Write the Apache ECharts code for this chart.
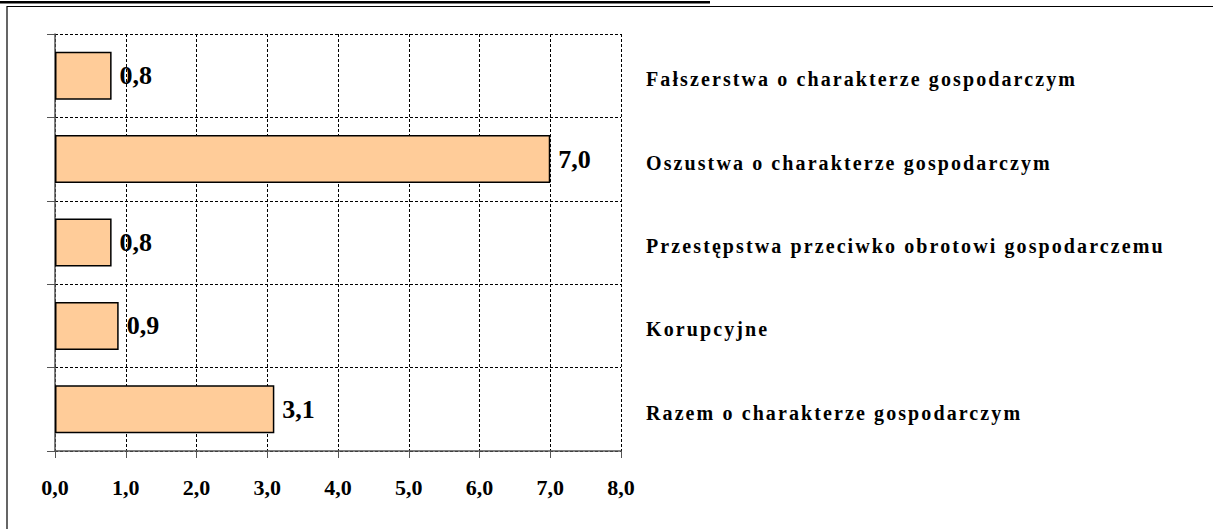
<!DOCTYPE html>
<html>
<head>
<meta charset="utf-8">
<script src="https://cdn.jsdelivr.net/npm/echarts@6/dist/echarts.min.js"></script>
<style>
  html, body { margin: 0; padding: 0; background: #fff; }
  #chart { width: 1213px; height: 529px; }
  /* category names on the right are set wide like the original */
  #chart text[style*="20px"] { letter-spacing: 2.1px; }
</style>
</head>
<body>
<div id="chart"></div>
<script>
const categories = [
  'Fałszerstwa o charakterze gospodarczym',
  'Oszustwa o charakterze gospodarczym',
  'Przestępstwa przeciwko obrotowi gospodarczemu',
  'Korupcyjne',
  'Razem o charakterze gospodarczym'
]
const values = [0.8, 7.0, 0.8, 0.9, 3.1]
const xMin = 0
const xMax = 8
const xStep = 1

const serif = '"Liberation Serif", "Times New Roman", serif'
const comma = v => Number(v).toFixed(1).replace('.', ',')
const dashed = { color: '#000', width: 1, type: [3, 2] }

const chart = echarts.init(document.getElementById('chart'), null, { renderer: 'svg' })

chart.setOption({
  animation: false,
  backgroundColor: '#fff',
  grid: { left: 55, top: 34, width: 566, height: 417 },
  xAxis: {
    type: 'value',
    min: xMin,
    max: xMax,
    interval: xStep,
    axisLine: { show: true, lineStyle: { color: '#555', width: 1.5 } },
    axisTick: { show: true, length: 7, lineStyle: { color: '#555' } },
    splitLine: { show: true, lineStyle: dashed },
    axisLabel: {
      formatter: comma,
      margin: 25,
      color: '#000',
      fontFamily: serif,
      fontWeight: 'bold',
      fontSize: 22
    }
  },
  yAxis: [
    {
      type: 'category',
      inverse: true,
      data: categories,
      axisLine: { show: true, lineStyle: { color: '#555', width: 1.5 } },
      axisTick: { show: true, length: 8, lineStyle: { color: '#555' } },
      splitLine: { show: true, lineStyle: dashed },
      axisLabel: { show: false }
    },
    {
      type: 'category',
      position: 'right',
      inverse: true,
      data: categories,
      axisLine: { show: false },
      axisTick: { show: false },
      splitLine: { show: false },
      axisLabel: {
        margin: 25,
        verticalAlign: 'top',
        lineHeight: 7,
        color: '#000',
        fontFamily: serif,
        fontWeight: 'bold',
        fontSize: 20
      }
    }
  ],
  series: [
    {
      type: 'bar',
      yAxisIndex: 0,
      data: values,
      barWidth: 48,
      itemStyle: { color: '#FFCC99', borderColor: '#000', borderWidth: 1.5 },
      label: {
        show: true,
        position: 'right',
        distance: 8,
        formatter: p => comma(p.value),
        color: '#000',
        fontFamily: serif,
        fontWeight: 'bold',
        fontSize: 26
      }
    }
  ],
  graphic: [
    // underline of the cut-off heading above the chart
    { type: 'rect', shape: { x: 0, y: 1, width: 710, height: 2.5 }, style: { fill: '#000' } },
    // outer frame
    { type: 'rect', shape: { x: 7, y: 6.5, width: 1300, height: 600 }, style: { fill: 'none', stroke: '#000', lineWidth: 1.2 } }
  ]
})
</script>
</body>
</html>
